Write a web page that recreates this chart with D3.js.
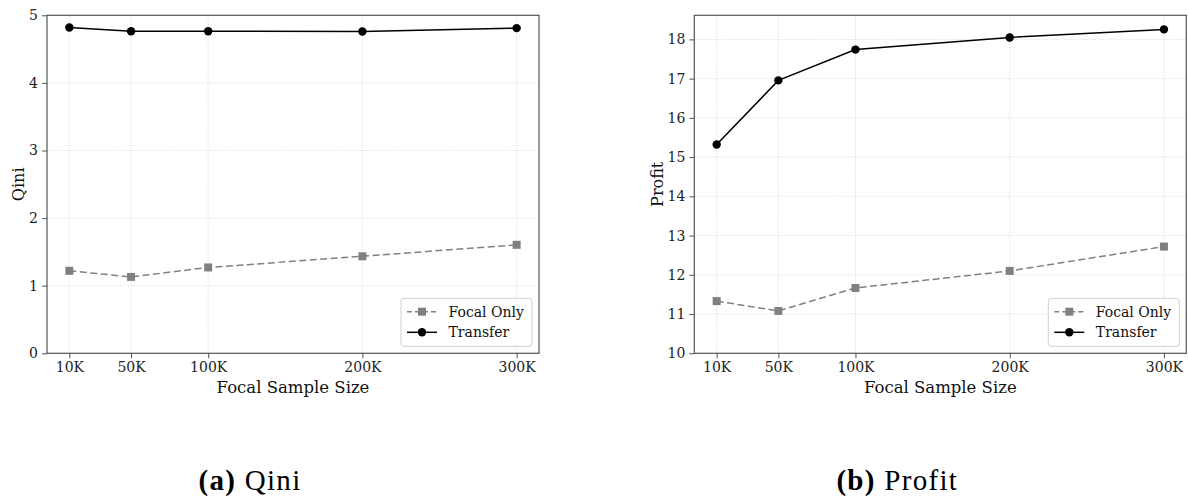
<!DOCTYPE html>
<html>
<head>
<meta charset="utf-8">
<script src="https://cdn.jsdelivr.net/npm/d3@7"></script>
<style>
  body { margin: 0; background: #fff; }
</style>
</head>
<body>
<div id="chart"></div>
<script>
// sample sizes (in thousands) and labels
var sizes = [10, 50, 100, 200, 300];
var sizeLabels = ["10K", "50K", "100K", "200K", "300K"];
var seriesNames = ["Focal Only", "Transfer"];

// Qini panel
var qiniFocal = [1.22, 1.13, 1.27, 1.435, 1.605];
var qiniTransfer = [4.82, 4.765, 4.765, 4.76, 4.81];
var qiniTicks = [0, 1, 2, 3, 4, 5];

// Profit panel
var profitFocal = [11.33, 11.08, 11.665, 12.10, 12.72];
var profitTransfer = [15.32, 16.955, 17.74, 18.05, 18.255];
var profitTicks = [10, 11, 12, 13, 14, 15, 16, 17, 18];

var SERIF = "'DejaVu Serif', serif";
var CAPTION = "'Liberation Serif', serif";

var W = 1188, H = 498;
var svg = d3.select("#chart").append("svg")
    .attr("width", W)
    .attr("height", H);

function panel(opt) {
    var x = d3.scaleLinear().domain([-4.5, 314.5]).range([opt.left, opt.left + 492]);
    var y = d3.scaleLinear().domain(opt.ydomain).range([353.3, 15.3]);
    var g = svg.append("g");

    // grid
    g.append("g").selectAll("line")
        .data(sizes).enter().append("line")
        .attr("x1", function(d) { return x(d); })
        .attr("x2", function(d) { return x(d); })
        .attr("y1", y.range()[0]).attr("y2", y.range()[1])
        .attr("stroke", "#d4d4d4").attr("stroke-width", 0.8)
        .attr("stroke-dasharray", "1.2,1.6");
    g.append("g").selectAll("line")
        .data(opt.yticks).enter().append("line")
        .attr("x1", x.range()[0]).attr("x2", x.range()[1])
        .attr("y1", function(d) { return y(d); })
        .attr("y2", function(d) { return y(d); })
        .attr("stroke", "#d4d4d4").attr("stroke-width", 0.8)
        .attr("stroke-dasharray", "1.2,1.6");

    // axes
    var xAxis = d3.axisBottom(x).tickValues(sizes)
        .tickFormat(function(d, i) { return sizeLabels[i]; })
        .tickSize(5).tickPadding(4);
    var gx = g.append("g")
        .attr("transform", "translate(0," + y.range()[0] + ")")
        .call(xAxis);
    var yAxis = d3.axisLeft(y).tickValues(opt.yticks)
        .tickFormat(d3.format("d"))
        .tickSize(5).tickPadding(4);
    var gy = g.append("g")
        .attr("transform", "translate(" + x.range()[0] + ",0)")
        .call(yAxis);
    [gx, gy].forEach(function(a) {
        a.select(".domain").remove();
        a.attr("font-family", null).attr("font-size", null);
        a.selectAll(".tick line").attr("stroke", "#555").attr("stroke-width", 1);
        a.selectAll(".tick text").style("font-family", SERIF)
            .style("font-size", "14px").attr("fill", "#222");
    });

    // lines
    var line = d3.line()
        .x(function(d, i) { return x(sizes[i]); })
        .y(function(d) { return y(d); });
    g.append("path").datum(opt.focal)
        .attr("d", line).attr("fill", "none")
        .attr("stroke", "#808080").attr("stroke-width", 1.5)
        .attr("stroke-dasharray", "7,3.5");
    g.append("g").selectAll("rect")
        .data(opt.focal).enter().append("rect")
        .attr("x", function(d, i) { return x(sizes[i]) - 4; })
        .attr("y", function(d) { return y(d) - 4; })
        .attr("width", 8).attr("height", 8)
        .attr("fill", "#808080");
    g.append("path").datum(opt.transfer)
        .attr("d", line).attr("fill", "none")
        .attr("stroke", "#000").attr("stroke-width", 1.5);
    g.append("g").selectAll("circle")
        .data(opt.transfer).enter().append("circle")
        .attr("cx", function(d, i) { return x(sizes[i]); })
        .attr("cy", function(d) { return y(d); })
        .attr("r", 4.2)
        .attr("fill", "#000");

    // spines
    g.append("rect")
        .attr("x", x.range()[0]).attr("y", y.range()[1])
        .attr("width", x.range()[1] - x.range()[0])
        .attr("height", y.range()[0] - y.range()[1])
        .attr("fill", "none").attr("stroke", "#555").attr("stroke-width", 1.2);

    // axis labels
    g.append("text")
        .attr("x", (x.range()[0] + x.range()[1]) / 2)
        .attr("y", 392.5)
        .attr("text-anchor", "middle")
        .style("font-family", SERIF).style("font-size", "16.5px").attr("fill", "#111")
        .text("Focal Sample Size");
    g.append("text")
        .attr("transform", "translate(" + (opt.left - opt.labelOffset) + "," + ((y.range()[0] + y.range()[1]) / 2) + ") rotate(-90)")
        .attr("text-anchor", "middle")
        .style("font-family", SERIF).style("font-size", "16px").attr("fill", "#111")
        .text(opt.ylabel);

    // legend
    var lx = x.range()[1] - 138, ly = 298.3;
    var leg = g.append("g").attr("transform", "translate(" + lx + "," + ly + ")");
    leg.append("rect")
        .attr("width", 131).attr("height", 48).attr("rx", 3)
        .attr("fill", "#fff").attr("fill-opacity", 0.85)
        .attr("stroke", "#d0d0d0").attr("stroke-width", 1);
    seriesNames.forEach(function(name, i) {
        var cy = 13.4 + i * 20.6;
        var gray = i === 0;
        leg.append("line")
            .attr("x1", 6).attr("x2", 36).attr("y1", cy).attr("y2", cy)
            .attr("stroke", gray ? "#808080" : "#000").attr("stroke-width", 1.5)
            .attr("stroke-dasharray", gray ? "5,3" : null);
        if (gray) {
            leg.append("rect").attr("x", 17).attr("y", cy - 4)
                .attr("width", 8).attr("height", 8).attr("fill", "#808080");
        } else {
            leg.append("circle").attr("cx", 21).attr("cy", cy).attr("r", 4.2).attr("fill", "#000");
        }
        leg.append("text")
            .attr("x", 47.5).attr("y", cy + 5)
            .style("font-family", SERIF).style("font-size", "14px").attr("fill", "#111")
            .text(name);
    });

    // caption
    var cap = svg.append("text")
        .attr("x", (x.range()[0] + x.range()[1]) / 2 - 43)
        .attr("y", 490)
        .attr("text-anchor", "middle")
        .style("font-family", CAPTION).style("font-size", "29px")
        .style("letter-spacing", "1.3px").attr("fill", "#000");
    cap.append("tspan").style("font-weight", "bold").text(opt.tag);
    cap.append("tspan").text(" " + opt.title);
}

panel({
    left: 47, ydomain: [0, 5], yticks: qiniTicks, labelOffset: 23,
    focal: qiniFocal, transfer: qiniTransfer,
    ylabel: "Qini", tag: "(a)", title: "Qini"
});
panel({
    left: 694.3, ydomain: [10, 18.614], yticks: profitTicks, labelOffset: 31,
    focal: profitFocal, transfer: profitTransfer,
    ylabel: "Profit", tag: "(b)", title: "Profit"
});
</script>
</body>
</html>
